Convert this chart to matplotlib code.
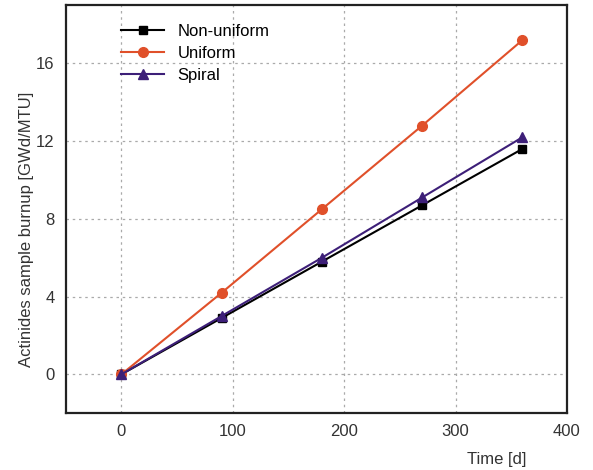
import numpy as np
import matplotlib.pyplot as plt

plt.rcParams['font.family'] = ['Liberation Sans', 'DejaVu Sans']

time = [0, 90, 180, 270, 360]   # d
non_uniform = [0, 2.9, 5.8, 8.7, 11.6]
uniform = [0, 4.2, 8.5, 12.8, 17.2]
spiral = [0, 3.0, 6.0, 9.1, 12.2]

fig = plt.figure(figsize=(5.93, 4.70), dpi=100)
ax = fig.add_axes([0.111, 0.121, 0.845, 0.868])

ax.plot(time, non_uniform, color="black", marker="s", markersize=6, lw=1.5, label="Non-uniform")
ax.plot(time, uniform, color="#e0502a", marker="o", markersize=7, lw=1.5, label="Uniform")
ax.plot(time, spiral, color="#3d1f78", marker="^", markersize=7, lw=1.5, label="Spiral")

ax.set_xlim(-50, 400)
ax.set_ylim(-2, 19)
ax.set_xticks([0, 100, 200, 300, 400])
ax.set_yticks([0, 4, 8, 12, 16])
ax.tick_params(length=0, labelsize=12, colors="#333333", pad=8)
ax.grid(True, ls=(0, (2, 3)), color="#aaaaaa", lw=0.9)
for s in ax.spines.values():
    s.set_linewidth(1.6)
    s.set_color("#222222")

ax.set_ylabel("Actinides sample burnup [GWd/MTU]", fontsize=12, color="#333333")
ax.yaxis.set_label_coords(-0.064, 0.45)
ax.set_xlabel("Time [d]", fontsize=12, color="#333333")
ax.xaxis.set_label_coords(0.86, -0.095)

ax.legend(loc="upper left", bbox_to_anchor=(0.08, 0.99), frameon=False, fontsize=12,
          handlelength=2.6, labelspacing=0.4)

plt.savefig("out.png", dpi=100)
